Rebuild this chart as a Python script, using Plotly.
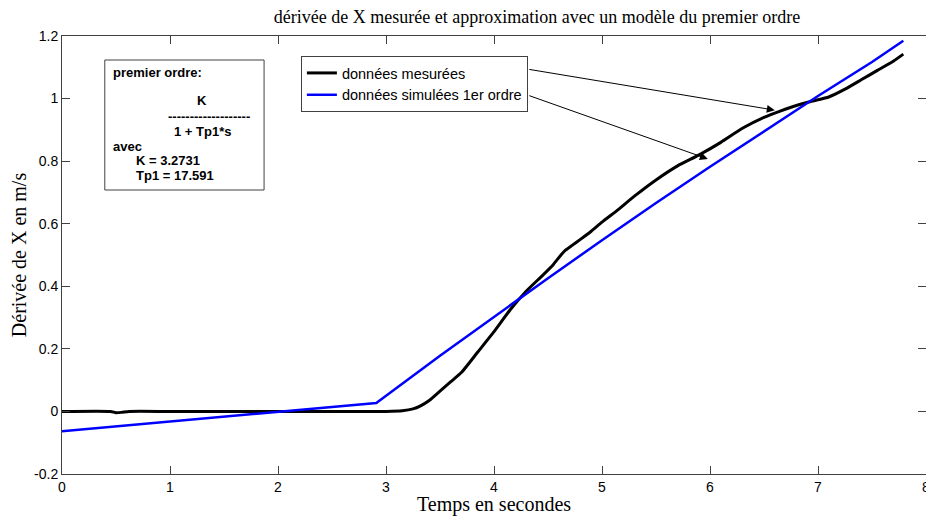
import plotly.graph_objects as go

# ---- data ----
meas_t = [0, 0.45, 0.5, 0.55, 0.62, 1.0, 2.0, 3.0, 3.15, 3.25, 3.32, 3.4, 3.5, 3.6, 3.7,
          3.85, 4.0, 4.15, 4.3, 4.45, 4.55, 4.62, 4.66, 4.72, 4.8, 4.9, 5.0, 5.15, 5.3,
          5.5, 5.7, 5.9, 6.1, 6.3, 6.5, 6.65, 6.8, 6.95, 7.1, 7.25, 7.4, 7.55, 7.7, 7.79]
meas_v = [0, 0, -0.004, -0.003, 0, 0, 0, 0, 0.002, 0.008, 0.018, 0.035, 0.065, 0.095, 0.125,
          0.19, 0.255, 0.325, 0.385, 0.435, 0.47, 0.50, 0.515, 0.53, 0.550, 0.576, 0.605, 0.645, 0.688,
          0.74, 0.785, 0.82, 0.86, 0.905, 0.94, 0.96, 0.978, 0.992, 1.005, 1.03, 1.06, 1.09, 1.12, 1.142]

sim_t = [0, 2.91, 3.5, 4.0, 4.5, 5.0, 5.5, 6.0, 6.5, 7.0, 7.5, 7.79]
sim_v = [-0.063, 0.027, 0.178, 0.303, 0.426, 0.547, 0.666, 0.782, 0.896, 1.008, 1.117, 1.185]

x_ticks = [0, 1, 2, 3, 4, 5, 6, 7, 8]
y_ticks = [-0.2, 0, 0.2, 0.4, 0.6, 0.8, 1, 1.2]
y_tick_text = ["-0.2", "0", "0.2", "0.4", "0.6", "0.8", "1", "1.2"]

title = "dérivée de X mesurée et approximation avec un modèle du premier ordre"
xlabel = "Temps en secondes"
ylabel = "Dérivée de X en m/s"
name_meas = "données mesurées"
name_sim = "données simulées 1er ordre"
box_lines = ["premier ordre:", "K", "-------------------", "1 + Tp1*s", "avec",
             "K = 3.2731", "Tp1 = 17.591"]

# ---- layout geometry (window pixels; page body has an 8px margin) ----
OFF = 8
W, H = 934 - OFF, 516 - OFF
L, R, T, B = 62 - OFF, 930 - OFF, 36 - OFF, 474 - OFF


def px(xp):
    return (xp - OFF - L) / (R - L)


def py(yp):
    return (B - (yp - OFF)) / (B - T)


fig = go.Figure()
fig.add_trace(go.Scatter(x=meas_t, y=meas_v, mode="lines", name=name_meas,
                         line=dict(color="black", width=3, shape="spline", smoothing=0.5)))
fig.add_trace(go.Scatter(x=sim_t, y=sim_v, mode="lines", name=name_sim,
                         line=dict(color="#0000ff", width=2.5)))

axis_common = dict(showline=True, linecolor="#404040", linewidth=1, mirror="ticks",
                   ticks="inside", ticklen=8, tickcolor="#404040", showgrid=False,
                   zeroline=False, tickfont=dict(family="Liberation Sans", size=14, color="black"))

fig.update_xaxes(range=[0, 8], tickvals=x_ticks, ticktext=[str(v) for v in x_ticks],
                 ticklabeloverflow="allow",
                 title=dict(text=xlabel, font=dict(family="Liberation Serif", size=20, color="black"),
                            standoff=0),
                 **axis_common)
fig.update_yaxes(range=[-0.2, 1.2], tickvals=y_ticks, ticktext=y_tick_text,
                 title=dict(text=ylabel, font=dict(family="Liberation Serif", size=20, color="black"),
                            standoff=6),
                 **axis_common)

annotations = []
box_pos = [
    (box_lines[0], 111, 72, "left"),
    (box_lines[1], 203, 100, "center"),
    (box_lines[2], 210, 117, "center"),
    (box_lines[3], 203, 131, "center"),
    (box_lines[4], 111, 146, "left"),
    (box_lines[5], 134, 160, "left"),
    (box_lines[6], 134, 175, "left"),
]
for txt, xp, yp, anc in box_pos:
    annotations.append(dict(text="<b>%s</b>" % txt, x=px(xp), y=py(yp), xref="paper", yref="paper",
                            xanchor=anc, yanchor="middle", showarrow=False,
                            font=dict(family="Liberation Sans", size=13, color="black")))

arrows = [((4.313, 1.094), (6.60, 0.963)), ((4.313, 1.011), (5.98, 0.807))]
for (tx, ty), (hx, hy) in arrows:
    annotations.append(dict(x=hx, y=hy, ax=tx, ay=ty, xref="x", yref="y", axref="x", ayref="y",
                            showarrow=True, arrowhead=2, arrowsize=1.6, arrowwidth=1,
                            arrowcolor="black", text=""))

fig.update_layout(
    width=W, height=H,
    margin=dict(l=L, r=W - R, t=T, b=H - B),
    paper_bgcolor="white", plot_bgcolor="white",
    title=dict(text=title, x=(537 - OFF) / W, xanchor="center", y=1 - (17 - OFF) / H, yanchor="middle",
               font=dict(family="Liberation Serif", size=18, color="black")),
    showlegend=True,
    legend=dict(x=px(302), y=py(56), xanchor="left", yanchor="top",
                bordercolor="#404040", borderwidth=1, bgcolor="white",
                font=dict(family="Liberation Sans", size=14.5, color="black"),
                itemwidth=30, tracegroupgap=0),
    shapes=[dict(type="rect", xref="paper", yref="paper", x0=px(105), x1=px(265),
                 y0=py(190), y1=py(60), line=dict(color="#404040", width=1),
                 fillcolor="white", layer="above")],
    annotations=annotations,
)

fig.write_html("out.html")
